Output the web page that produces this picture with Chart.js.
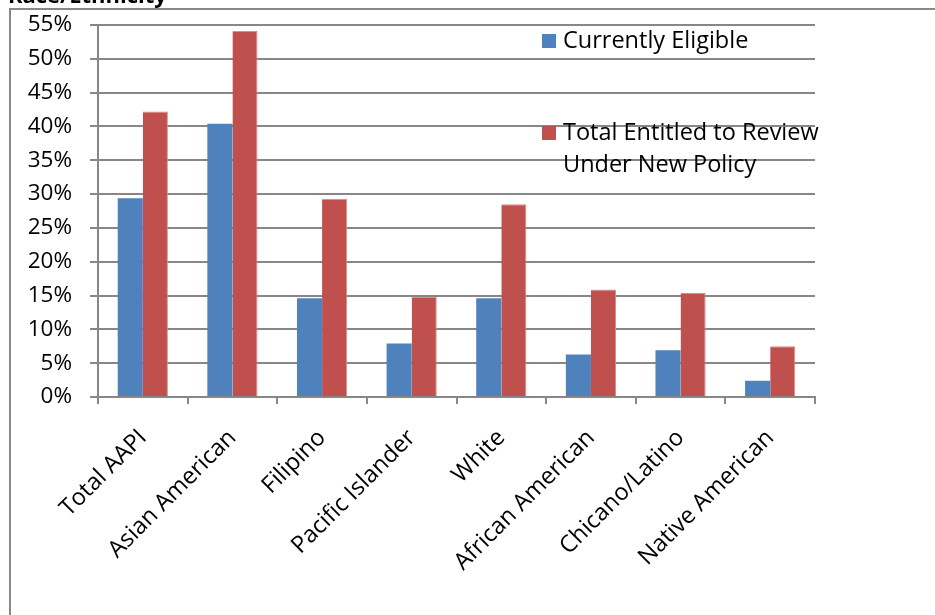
<!DOCTYPE html>
<html>
<head>
<meta charset="utf-8">
<script src="https://cdn.jsdelivr.net/npm/chart.js@4.4.1/dist/chart.umd.min.js"></script>
<style>
  html, body { margin: 0; padding: 0; background: #fff; }
  #wrap { position: relative; width: 935px; height: 615px; overflow: hidden; }
  #frame { position: absolute; left: 9px; top: 8px; width: 960px; height: 640px; border: 2px solid #888; box-sizing: border-box; }
  canvas { position: absolute; left: 0; top: 0; }
</style>
</head>
<body>
<div id="wrap">
  <div id="frame"></div>
  <canvas id="c" width="935" height="615"></canvas>
</div>
<script>
const chartTitle = "Race/Ethnicity";
const categories = ["Total AAPI", "Asian American", "Filipino", "Pacific Islander", "White", "African American", "Chicano/Latino", "Native American"];
const seriesNames = ["Currently Eligible", "Total Entitled to Review Under New Policy"];
const currentlyEligible = [29.4, 40.4, 14.6, 7.9, 14.6, 6.3, 6.9, 2.4];
const totalEntitled = [42.2, 54.1, 29.3, 14.8, 28.5, 15.9, 15.4, 7.5];
const yTicks = [0, 5, 10, 15, 20, 25, 30, 35, 40, 45, 50, 55];

const FONT = "'Open Sans', 'DejaVu Sans', sans-serif";
const BLUE = "#4F81BD";
const RED = "#C0504D";
const GRID = "#878787";

const legendPlugin = {
  id: 'customLegend',
  afterDraw(chart) {
    const ctx = chart.ctx;
    const a = chart.chartArea;
    ctx.save();
    // title (clipped at top of page)
    ctx.font = "bold 22px " + FONT;
    ctx.fillStyle = "#000";
    ctx.textBaseline = "alphabetic";
    ctx.textAlign = "left";
    ctx.fillText(chartTitle, 8, 3);
    // legend
    ctx.font = "23.5px " + FONT;
    const lx = a.left + 444;
    ctx.fillStyle = BLUE;
    ctx.fillRect(lx, 34, 14, 14);
    ctx.fillStyle = "#000";
    ctx.fillText("Currently Eligible", lx + 21, 48);
    ctx.fillStyle = RED;
    ctx.fillRect(lx, 126, 14, 14);
    ctx.fillStyle = "#000";
    ctx.fillText("Total Entitled to Review", lx + 21, 140);
    ctx.fillText("Under New Policy", lx + 21, 172);
    ctx.restore();
  }
};

new Chart(document.getElementById('c'), {
  type: 'bar',
  data: {
    labels: categories,
    datasets: [
      { label: seriesNames[0], data: currentlyEligible, backgroundColor: BLUE, borderWidth: 0 },
      { label: seriesNames[1], data: totalEntitled, backgroundColor: RED, borderColor: "#d98c8a", borderWidth: {left:0, right:1, top:1, bottom:0} }
    ]
  },
  options: {
    responsive: false,
    animation: false,
    devicePixelRatio: 1,
    layout: { padding: { left: 0, top: 25, right: 120, bottom: 0 } },
    plugins: { legend: { display: false }, tooltip: { enabled: false }, title: { display: false } },
    datasets: { bar: { categoryPercentage: 0.56, barPercentage: 1.0 } },
    scales: {
      x: {
        offset: true,
        grid: { display: true, drawOnChartArea: false, drawTicks: true, tickLength: 7, color: GRID, lineWidth: 2, offset: true },
        border: { display: true, color: GRID, width: 2 },
        ticks: { color: "#000", font: { family: FONT, size: 23.5 }, minRotation: 45, maxRotation: 45, padding: 20, autoSkip: false },
        afterFit(scale) { scale.height = 218; scale.paddingLeft = 0; scale.paddingRight = 0; }
      },
      y: {
        min: 0, max: 55,
        afterBuildTicks(scale) { scale.ticks = yTicks.map(v => ({ value: v })); },
        grid: { color: GRID, lineWidth: 2, tickLength: 8, drawTicks: true },
        border: { display: true, color: GRID, width: 2 },
        ticks: { color: "#000", font: { family: FONT, size: 22.5 }, padding: 18, callback: v => v + "%" },
        afterFit(scale) { scale.width = 98; scale.paddingTop = 0; scale.paddingBottom = 0; }
      }
    }
  },
  plugins: [legendPlugin]
});
</script>
</body>
</html>
